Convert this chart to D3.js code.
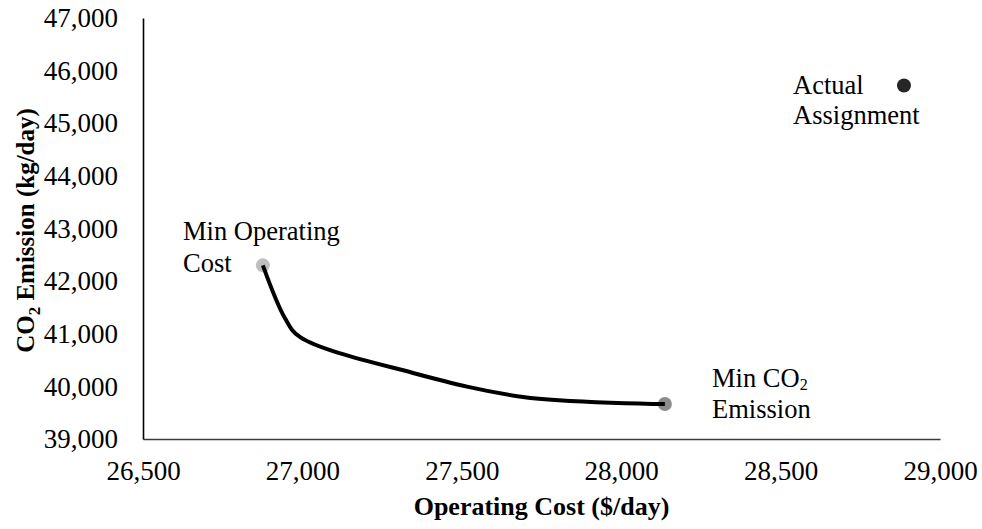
<!DOCTYPE html>
<html>
<head>
<meta charset="utf-8">
<script src="https://cdn.jsdelivr.net/npm/d3@7"></script>
<style>
  html, body { margin: 0; padding: 0; background: #fff; }
  svg { display: block; font-family: "Liberation Serif", "Times New Roman", serif; }
</style>
</head>
<body>
<svg id="chart" width="982" height="529"></svg>
<script>
// Pareto frontier: operating cost vs CO2 emission
const frontierCost = [26876, 26945, 26992, 27347, 27692, 28137];
const frontierCO2  = [42300, 41300, 40940, 40255, 39800, 39665];

// Highlighted points
const pointNames = ["Min Operating Cost", "Min CO2 Emission", "Actual Assignment"];
const pointCost  = [26876, 28137, 28887];
const pointCO2   = [42300, 39665, 45717];

// Axis ticks
const xTicks = [26500, 27000, 27500, 28000, 28500, 29000];
const yTicks = [39000, 40000, 41000, 42000, 43000, 44000, 45000, 46000, 47000];

const svg = d3.select("#chart");
const plotLeft = 143, plotRight = 940, plotTop = 18, plotBottom = 439;
const serif = "Liberation Serif, Times New Roman, serif";

const x = d3.scaleLinear().domain([26500, 29000]).range([plotLeft, plotRight]);
const y = d3.scaleLinear().domain([39000, 47000]).range([plotBottom, plotTop]);
const fmt = d3.format(",");

// X axis
const gx = svg.append("g")
  .attr("transform", `translate(0,${plotBottom})`)
  .call(d3.axisBottom(x).tickValues(xTicks).tickFormat(fmt).tickSize(0).tickPadding(22));
gx.select(".domain").attr("stroke", "#3a3a3a").attr("stroke-width", 1.6);
gx.selectAll("text").attr("font-size", 27).attr("fill", "#000").attr("font-family", serif);

// Y axis
const gy = svg.append("g")
  .attr("transform", `translate(${plotLeft},0)`)
  .call(d3.axisLeft(y).tickValues(yTicks).tickFormat(fmt).tickSize(0).tickPadding(25));
gy.select(".domain").attr("stroke", "#000").attr("stroke-width", 1.6);
gy.selectAll("text").attr("font-size", 27).attr("fill", "#000").attr("font-family", serif);

// Axis titles
svg.append("text")
  .attr("x", (plotLeft + plotRight) / 2).attr("y", 515)
  .attr("text-anchor", "middle")
  .attr("font-size", 26).attr("font-weight", "bold")
  .text("Operating Cost ($/day)");

const yTitle = svg.append("text")
  .attr("transform", `translate(34,${(plotTop + plotBottom) / 2 + 2}) rotate(-90)`)
  .attr("text-anchor", "middle")
  .attr("font-size", 25).attr("font-weight", "bold");
yTitle.append("tspan").text("CO");
yTitle.append("tspan").attr("font-size", 17).attr("dy", 6).text("2");
yTitle.append("tspan").attr("dy", -6).text(" Emission (kg/day)");

// Markers
const markerFill = ["#bfbfbf", "#8c8c8c", "#262626"];
svg.selectAll("circle.pt")
  .data(pointNames)
  .join("circle")
  .attr("class", "pt")
  .attr("cx", (d, i) => x(pointCost[i]))
  .attr("cy", (d, i) => y(pointCO2[i]))
  .attr("r", 7)
  .attr("fill", (d, i) => markerFill[i]);

// Frontier line, drawn over the end markers
const frontier = frontierCost.map((c, i) => [c, frontierCO2[i]]);
svg.append("path")
  .datum(frontier)
  .attr("fill", "none")
  .attr("stroke", "#000")
  .attr("stroke-width", 4)
  .attr("stroke-linecap", "butt")
  .attr("stroke-linejoin", "round")
  .attr("d", d3.line().x(d => x(d[0])).y(d => y(d[1])).curve(d3.curveCatmullRom.alpha(0.5)));

// Point labels
function label(xp, yp, gap, lines) {
  const t = svg.append("text").attr("font-size", 26.5).attr("fill", "#000");
  lines.forEach((ln, i) => {
    const ts = t.append("tspan").attr("x", xp).attr("y", yp + i * gap);
    ln.forEach(part => {
      if (part.sub) ts.append("tspan").attr("font-size", 16).attr("dy", 3).text(part.sub);
      else ts.append("tspan").text(part.t);
    });
  });
}
label(183, 240, 32, [[{t: "Min Operating"}], [{t: "Cost"}]]);
label(712, 387, 31, [[{t: "Min CO"}, {sub: "2"}], [{t: "Emission"}]]);
label(793, 94, 30, [[{t: "Actual"}], [{t: "Assignment"}]]);
</script>
</body>
</html>
